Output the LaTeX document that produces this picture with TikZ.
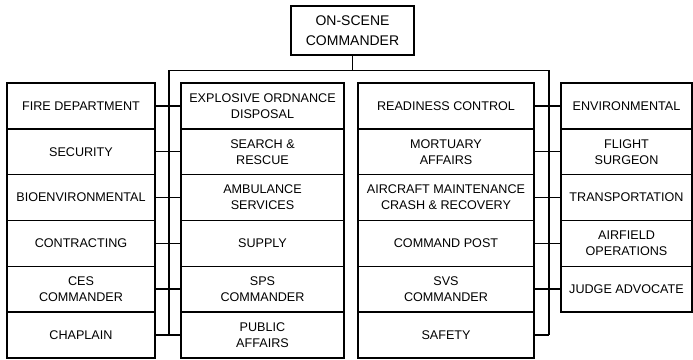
\documentclass[tikz,border=0pt]{standalone}
\usepackage{fontspec}
\setmainfont{Liberation Sans}
\begin{document}
\begin{tikzpicture}[x=1pt,y=-1pt,
  line width=1.5pt,
  cell/.style={draw, rectangle, inner sep=0pt, align=center,
    font=\fontsize{12.6}{16}\selectfont},
  colA/.style={cell, minimum width=148pt, minimum height=45.83pt},
  colB/.style={cell, minimum width=163pt, minimum height=45.83pt},
  colC/.style={cell, minimum width=176pt, minimum height=45.83pt},
  colD/.style={cell, minimum width=131pt, minimum height=45.83pt},
  headbox/.style={draw, rectangle, inner sep=0pt, align=center,
    minimum width=123pt, minimum height=49pt,
    font=\fontsize{14}{20}\selectfont},
  link/.style={line width=1.5pt}]
\useasboundingbox (0,0) rectangle (693,359);

% head of the chart
\node[headbox] (osc) at (352.5,30.5) {ON-SCENE\\COMMANDER};

% row centres: 83 + (i-0.5)*45.83
\def\ra{105.9}\def\rb{151.7}\def\rc{197.6}\def\rd{243.4}\def\re{289.2}\def\rf{335.1}

% first column
\node[colA] (a1) at (81,\ra) {FIRE DEPARTMENT};
\node[colA] (a2) at (81,\rb) {SECURITY};
\node[colA] (a3) at (81,\rc) {BIOENVIRONMENTAL};
\node[colA] (a4) at (81,\rd) {CONTRACTING};
\node[colA] (a5) at (81,\re) {CES\\COMMANDER};
\node[colA] (a6) at (81,\rf) {CHAPLAIN};

% second column
\node[colB] (b1) at (262.5,\ra) {EXPLOSIVE ORDNANCE\\DISPOSAL};
\node[colB] (b2) at (262.5,\rb) {SEARCH \&\\RESCUE};
\node[colB] (b3) at (262.5,\rc) {AMBULANCE\\SERVICES};
\node[colB] (b4) at (262.5,\rd) {SUPPLY};
\node[colB] (b5) at (262.5,\re) {SPS\\COMMANDER};
\node[colB] (b6) at (262.5,\rf) {PUBLIC\\AFFAIRS};

% third column
\node[colC] (c1) at (446,\ra) {READINESS CONTROL};
\node[colC] (c2) at (446,\rb) {MORTUARY\\AFFAIRS};
\node[colC] (c3) at (446,\rc) {AIRCRAFT MAINTENANCE\\CRASH \& RECOVERY};
\node[colC] (c4) at (446,\rd) {COMMAND POST};
\node[colC] (c5) at (446,\re) {SVS\\COMMANDER};
\node[colC] (c6) at (446,\rf) {SAFETY};

% fourth column
\node[colD] (d1) at (626.5,\ra) {ENVIRONMENTAL};
\node[colD] (d2) at (626.5,\rb) {FLIGHT\\SURGEON};
\node[colD] (d3) at (626.5,\rc) {TRANSPORTATION};
\node[colD] (d4) at (626.5,\rd) {AIRFIELD\\OPERATIONS};
\node[colD] (d5) at (626.5,\re) {JUDGE ADVOCATE};

% bus and risers
\coordinate (busL) at (169,70.5);
\coordinate (busR) at (549,70.5);
\coordinate (endL) at (169,\rf);
\coordinate (endR) at (549,\rf);
\draw[link] (osc.south) -- (osc.south |- busL);
\draw[link] (endL) -- (busL) -- (busR) -- (endR);

% left stubs
\foreach \i in {1,...,6}{\draw[link] (a\i.east) -- (b\i.west);}
% right stubs
\foreach \i in {1,...,5}{\draw[link] (c\i.east) -- (d\i.west);}
\draw[link] (c6.east) -- (endR);
\end{tikzpicture}
\end{document}
